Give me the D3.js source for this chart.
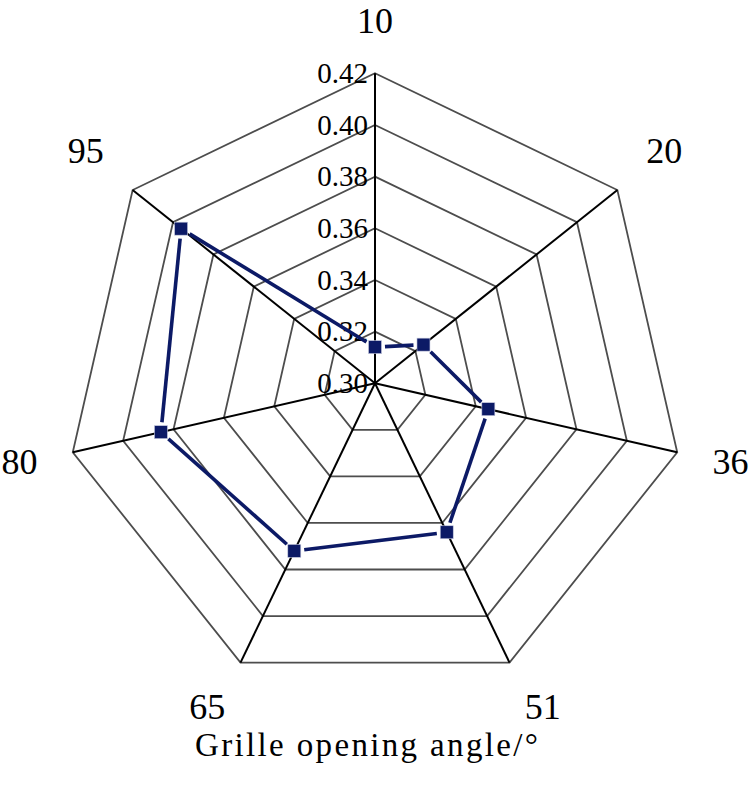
<!DOCTYPE html>
<html>
<head>
<meta charset="utf-8">
<script src="https://cdn.jsdelivr.net/npm/d3@7"></script>
<style>
  body { margin: 0; background: #fff; }
  text { font-family: 'Liberation Serif', 'Times New Roman', serif; fill: #000; }
</style>
</head>
<body>
<div class="svg-container"></div>
<script>
const categories = ['10', '20', '36', '51', '65', '80', '95']
const values = [0.314, 0.324, 0.345, 0.364, 0.372, 0.385, 0.396]
const tickValues = [0.30, 0.32, 0.34, 0.36, 0.38, 0.40, 0.42]
const axisTitle = 'Grille opening angle/°'

;(function init() {
  const width = 750
  const height = 786
  const cx = 375
  const cy = 383.3
  const radius = 310
  const labelRadius = 364
  const gap = 10

  const rScale = d3.scaleLinear().domain([0.30, 0.42]).range([0, radius])
  const aScale = d3
    .scaleLinear()
    .domain([0, categories.length])
    .range([0, 2 * Math.PI])

  const point = (i, r) => [
    cx + r * Math.sin(aScale(i)),
    cy - r * Math.cos(aScale(i))
  ]

  const svg = d3
    .select('.svg-container')
    .append('svg')
    .attr('width', width)
    .attr('height', height)

  // rings
  svg
    .append('g')
    .selectAll('polygon')
    .data(tickValues.slice(1))
    .enter()
    .append('polygon')
    .attr('points', (v) =>
      categories.map((c, i) => point(i, rScale(v)).join(',')).join(' ')
    )
    .attr('fill', 'none')
    .attr('stroke', '#4d4d4d')
    .attr('stroke-width', 1.8)

  // spokes
  svg
    .append('g')
    .selectAll('line')
    .data(categories)
    .enter()
    .append('line')
    .attr('x1', cx)
    .attr('y1', cy)
    .attr('x2', (c, i) => point(i, radius)[0])
    .attr('y2', (c, i) => point(i, radius)[1])
    .attr('stroke', '#000')
    .attr('stroke-width', 2)

  // tick labels
  svg
    .append('g')
    .selectAll('text')
    .data(tickValues)
    .enter()
    .append('text')
    .attr('x', cx - 7)
    .attr('y', (v) => cy - rScale(v))
    .attr('dy', '0.33em')
    .attr('text-anchor', 'end')
    .attr('font-size', 29)
    .text((v) => v.toFixed(2))

  // category labels, nudged a little like the spreadsheet placement
  const labelPos = (i) => {
    const a = aScale(i)
    const p = point(i, labelRadius)
    const dx = Math.sign(Math.round(Math.sin(a) * 1000)) * 12 * Math.cos(a) ** 2
    const dy = -6 * Math.abs(Math.sin(2 * a)) + (i === 0 ? 1.5 : 0)
    return [p[0] + dx, p[1] + dy]
  }

  svg
    .append('g')
    .selectAll('text')
    .data(categories)
    .enter()
    .append('text')
    .attr('x', (c, i) => labelPos(i)[0])
    .attr('y', (c, i) => labelPos(i)[1])
    .attr('dy', '0.34em')
    .attr('text-anchor', 'middle')
    .attr('font-size', 36)
    .text((c) => c)

  // series segments, shortened at the markers
  const pts = values.map((v, i) => point(i, rScale(v)))
  const segs = pts.map((p, i) => {
    const q = pts[(i + 1) % pts.length]
    const dx = q[0] - p[0]
    const dy = q[1] - p[1]
    const len = Math.sqrt(dx * dx + dy * dy)
    const ux = dx / len
    const uy = dy / len
    return [p[0] + ux * gap, p[1] + uy * gap, q[0] - ux * gap, q[1] - uy * gap]
  })

  svg
    .append('g')
    .selectAll('line')
    .data(segs)
    .enter()
    .append('line')
    .attr('x1', (s) => s[0])
    .attr('y1', (s) => s[1])
    .attr('x2', (s) => s[2])
    .attr('y2', (s) => s[3])
    .attr('stroke', '#0c1a66')
    .attr('stroke-width', 3.6)

  const size = 13
  svg
    .append('g')
    .selectAll('rect')
    .data(pts)
    .enter()
    .append('rect')
    .attr('x', (p) => p[0] - size / 2)
    .attr('y', (p) => p[1] - size / 2)
    .attr('width', size)
    .attr('height', size)
    .attr('fill', '#0c1a66')
    .attr('stroke', '#c8cce0')
    .attr('stroke-width', 0.6)

  svg
    .append('text')
    .attr('x', 366.5)
    .attr('y', 756)
    .attr('text-anchor', 'middle')
    .attr('font-size', 33)
    .attr('textLength', 343)
    .attr('lengthAdjust', 'spacing')
    .text(axisTitle)
})()
</script>
</body>
</html>
